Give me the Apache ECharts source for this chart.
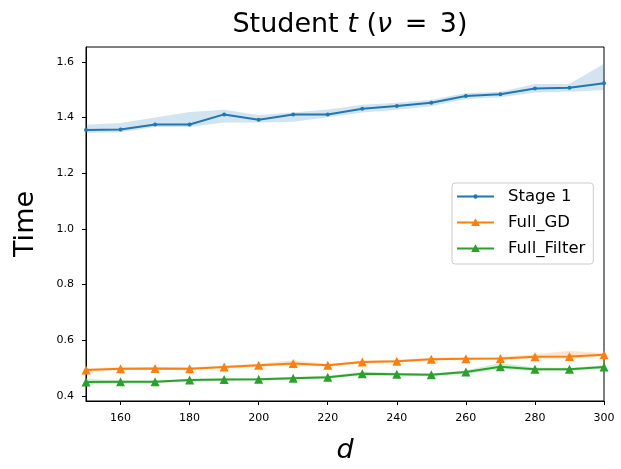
<!DOCTYPE html>
<html>
<head>
<meta charset="utf-8">
<script src="https://cdn.jsdelivr.net/npm/echarts@6/dist/echarts.min.js"></script>
<style>html,body{margin:0;padding:0;background:#fff}#c{width:621px;height:469px}</style>
</head>
<body>
<div id="c"></div>
<script>
var dValues = [150,160,170,180,190,200,210,220,230,240,250,260,270,280,290,300];
var stage1 = [1.355,1.357,1.375,1.375,1.411,1.392,1.411,1.411,1.431,1.441,1.453,1.477,1.483,1.504,1.507,1.523];
var stage1Upper = [1.374,1.380,1.400,1.420,1.428,1.409,1.418,1.429,1.446,1.453,1.464,1.488,1.492,1.520,1.520,1.593];
var stage1Lower = [1.344,1.347,1.366,1.366,1.382,1.382,1.385,1.401,1.418,1.428,1.440,1.466,1.473,1.490,1.492,1.499];
var fullGD = [0.493,0.498,0.499,0.498,0.504,0.510,0.517,0.510,0.522,0.525,0.532,0.534,0.535,0.541,0.542,0.548];
var fullGDUpper = [0.500,0.503,0.504,0.503,0.509,0.516,0.528,0.515,0.527,0.530,0.537,0.539,0.540,0.550,0.562,0.553];
var fullGDLower = [0.487,0.493,0.494,0.493,0.499,0.505,0.510,0.505,0.517,0.520,0.527,0.529,0.530,0.535,0.534,0.543];
var fullFilter = [0.450,0.451,0.451,0.457,0.459,0.460,0.464,0.467,0.480,0.478,0.476,0.486,0.505,0.496,0.496,0.504];
var fullFilterUpper = [0.462,0.456,0.456,0.462,0.464,0.465,0.469,0.473,0.487,0.483,0.481,0.492,0.518,0.502,0.501,0.510];
var fullFilterLower = [0.440,0.446,0.446,0.452,0.454,0.455,0.459,0.462,0.474,0.473,0.471,0.480,0.496,0.490,0.491,0.498];
var yTicks = [0.4,0.6,0.8,1.0,1.2,1.4,1.6];
var seriesNames = ['Stage 1','Full_GD','Full_Filter'];
var colors = ['#1f77b4','#ff7f0e','#2ca02c'];

function diff(a,b){return a.map(function(v,i){return +(v-b[i]).toFixed(4);});}
function band(name, lower, upper, color){
  return [
    {type:'line', name:name+'_lo', stack:name, data:lower, symbol:'none', lineStyle:{opacity:0}, silent:true, z:1},
    {type:'line', name:name+'_band', stack:name, data:diff(upper,lower), symbol:'none', lineStyle:{opacity:0}, areaStyle:{color:color, opacity:0.2}, silent:true, z:1}
  ];
}
function main(name, data, color, sym, size){
  return {type:'line', name:name, data:data, color:color, symbol:sym, symbolSize:size, showSymbol:true,
    lineStyle:{width:2, color:color}, itemStyle:{color:color}, z:3};
}
var bounds = 'M0,0L0.01,0L0.01,0.01Z M45.99,12L46,12L46,11.99Z ';
var lineSeg = 'M0,5.1L37,5.1L37,6.9L0,6.9Z ';
var dotIcon = 'path://' + bounds + lineSeg + 'M16.3,6A2.2,2.2 0 1 1 20.7,6A2.2,2.2 0 1 1 16.3,6Z';
var triIcon = 'path://' + bounds + lineSeg + 'M18.5,1.8L22.8,9.6L14.2,9.6Z';

var chart = echarts.init(document.getElementById('c'), null, {renderer:'canvas'});
var series = [].concat(
  band('s1', stage1Lower, stage1Upper, colors[0]),
  band('gd', fullGDLower, fullGDUpper, colors[1]),
  band('ff', fullFilterLower, fullFilterUpper, colors[2]),
  [main(seriesNames[0], stage1, colors[0], 'circle', 4),
   main(seriesNames[1], fullGD, colors[1], 'triangle', 9),
   main(seriesNames[2], fullFilter, colors[2], 'triangle', 9)]
);
chart.setOption({
  animation:false,
  textStyle:{fontFamily:'DejaVu Sans'},
  title:{
    text:'{n|Student }{i|t}{n| (}{i|ν}{n| }{e|=}{n| 3)}',
    left:345, textAlign:'center', top:6,
    textStyle:{rich:{
      n:{fontSize:27,fontFamily:'DejaVu Sans',fontWeight:'normal',color:'#000'},
      e:{fontSize:27,fontFamily:'DejaVu Sans',fontWeight:'normal',color:'#000',padding:[0,4,0,4]},
      i:{fontSize:27,fontFamily:'DejaVu Sans',fontStyle:'italic',fontWeight:'normal',color:'#000'}}}
  },
  grid:{left:86, right:17, top:47, bottom:68, show:true, borderColor:'#000', borderWidth:1, backgroundColor:'transparent'},
  legend:{
    data:[{name:seriesNames[0], icon:dotIcon},{name:seriesNames[1], icon:triIcon},{name:seriesNames[2], icon:triIcon}],
    left:452, top:183, orient:'vertical', itemGap:9, itemWidth:46, itemHeight:12,
    padding:[5,8,7,5], borderColor:'#cccccc', borderWidth:1, borderRadius:3, backgroundColor:'rgba(255,255,255,0.8)',
    textStyle:{fontSize:16.5, fontFamily:'DejaVu Sans', color:'#000'}
  },
  xAxis:{
    type:'category', data:dValues, boundaryGap:false,
    name:'d', nameLocation:'middle', nameGap:36,
    nameTextStyle:{fontSize:27, fontStyle:'italic', fontFamily:'DejaVu Sans', color:'#000'},
    axisLine:{lineStyle:{color:'#000', width:1}},
    axisTick:{show:true, length:4, lineStyle:{color:'#000'}, interval:function(i){return i%2===1;}},
    axisLabel:{fontSize:11, color:'#000', margin:12, interval:function(i){return i%2===1;}},
    splitLine:{show:false}
  },
  yAxis:{
    type:'value', min:0.382, max:1.653,
    name:'Time', nameLocation:'middle', nameGap:47, nameRotate:90,
    nameTextStyle:{fontSize:27, fontFamily:'DejaVu Sans', color:'#000'},
    axisLine:{show:true, lineStyle:{color:'#000', width:1}},
    axisTick:{show:true, length:4, lineStyle:{color:'#000'}, customValues:yTicks},
    axisLabel:{fontSize:11, color:'#000', margin:12, customValues:yTicks, formatter:function(v){return v.toFixed(1);}},
    splitLine:{show:false}
  },
  series:series
});
</script>
</body>
</html>
